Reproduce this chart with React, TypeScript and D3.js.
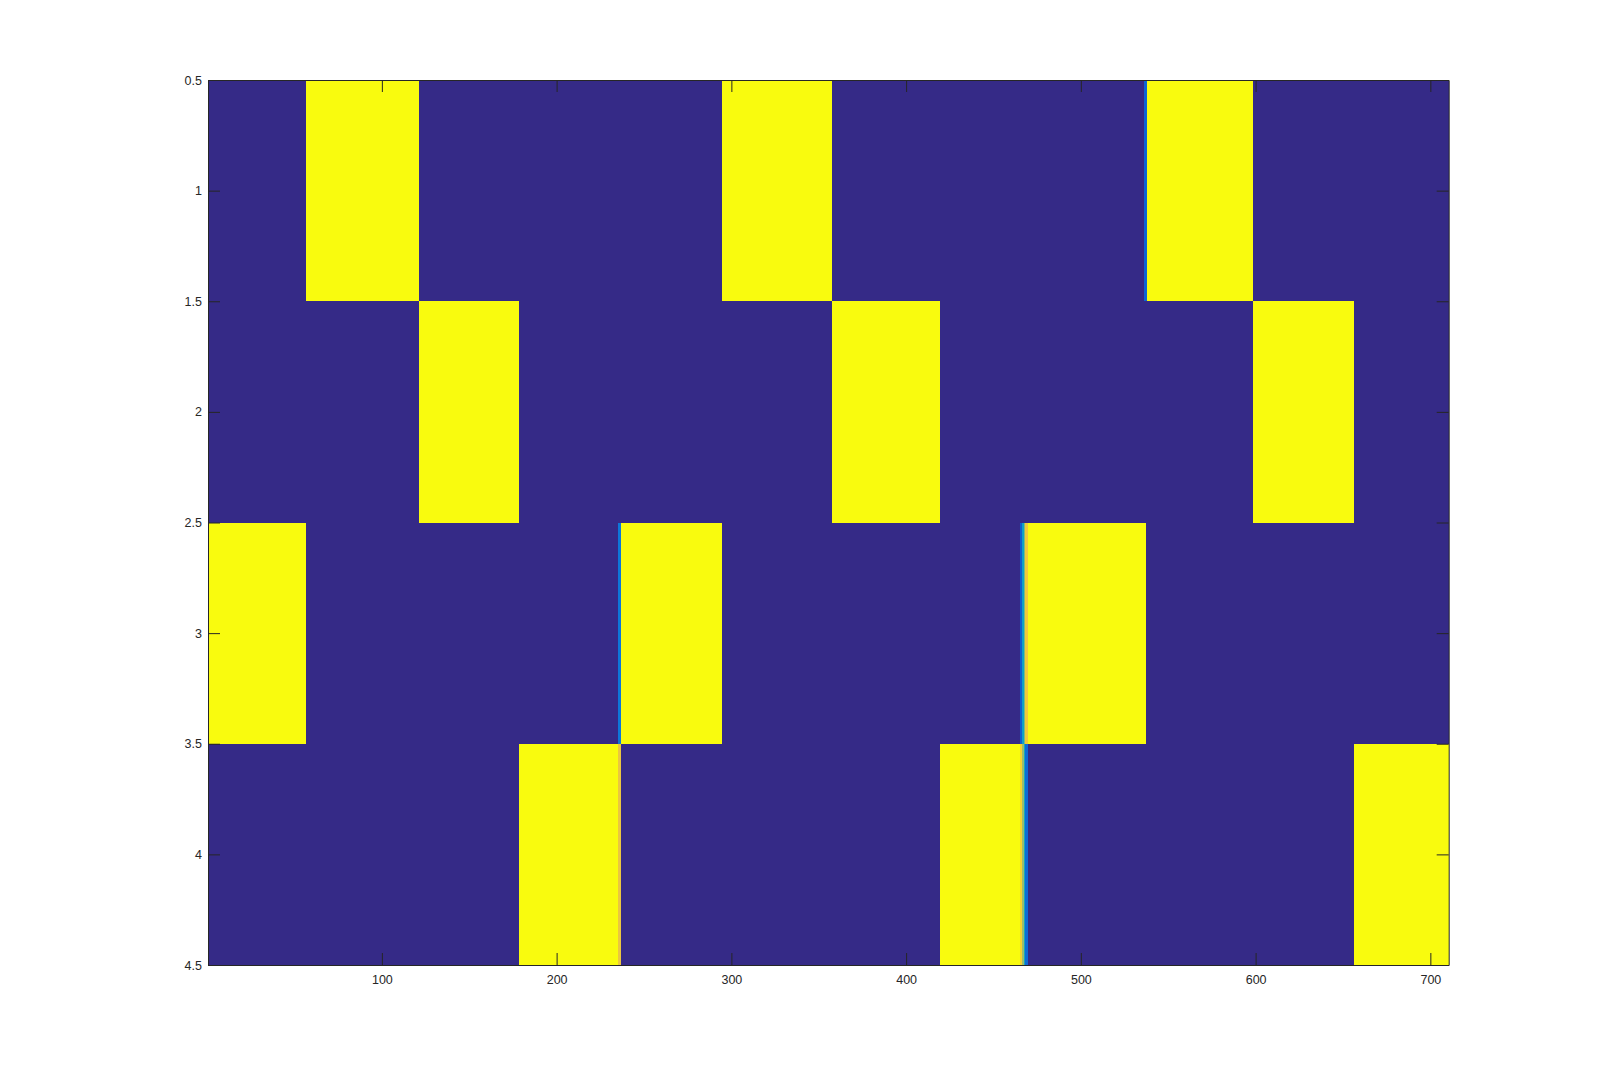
import React, { useEffect, useRef } from "react";
import * as d3 from "d3";

// image size: 4 rows x 710 columns, values 0..1 (imagesc, parula)
const nCols = 710;
const rows = [1, 2, 3, 4];

// columns where each row is "on" (value 1), inclusive ranges
const row1On = [[57, 121], [295, 357], [538, 598]];
const row2On = [[122, 178], [358, 419], [599, 656]];
const row3On = [[1, 56], [237, 294], [470, 537]];
const row4On = [[179, 235], [420, 465], [657, 710]];

// the few in-between cells at the switching points: [row, col, value]
const blendCells = [
  [3, 236, 0.2], [4, 236, 0.82],
  [3, 466, 0.12], [3, 467, 0.36], [3, 468, 0.6], [3, 469, 0.84],
  [4, 466, 0.88], [4, 467, 0.64], [4, 468, 0.4], [4, 469, 0.16],
  [1, 537, 0.14],
];

const xTicks = [100, 200, 300, 400, 500, 600, 700];
const yTicks = [0.5, 1, 1.5, 2, 2.5, 3, 3.5, 4, 4.5];

// parula-ish colormap stops
const parula = ["#352a87", "#0363e1", "#1485d4", "#06a7c6", "#38b99e", "#92bf73", "#d9ba56", "#fcce2e", "#f9fb0e"];

const App = () => {
  const svgRef = useRef(null);

  useEffect(() => {
    const margin = { left: 208, top: 80, right: 1448.7, bottom: 965 };
    const svg = d3.select(svgRef.current);
    svg.selectAll("*").remove();

    const x = d3.scaleLinear().domain([0.5, nCols + 0.5]).range([margin.left, margin.right]);
    const y = d3.scaleLinear().domain([0.5, 4.5]).range([margin.top, margin.bottom]);
    const color = d3.scaleSequential(d3.interpolateRgbBasis(parula)).domain([0, 1]);

    // build the matrix
    const onLists = [row1On, row2On, row3On, row4On];
    const matrix = rows.map((r, i) => {
      const vals = new Array(nCols).fill(0);
      onLists[i].forEach(([a, b]) => {
        for (let c = a; c <= b; c++) vals[c - 1] = 1;
      });
      return vals;
    });
    blendCells.forEach(([r, c, v]) => {
      matrix[r - 1][c - 1] = v;
    });

    // merge equal neighbours into runs
    const runs = [];
    matrix.forEach((vals, i) => {
      let start = 0;
      for (let c = 1; c <= nCols; c++) {
        if (c === nCols || vals[c] !== vals[start]) {
          runs.push({ row: rows[i], c0: start + 1, c1: c, v: vals[start] });
          start = c;
        }
      }
    });

    // solid runs first, snapped to whole pixels; the thin blend cells on top,
    // widened to the covering pixels so they stay visible
    const isBlend = (d) => d.v > 0 && d.v < 1;
    const ordered = runs.filter((d) => !isBlend(d)).concat(runs.filter(isBlend));
    const x0 = (d) => (isBlend(d) ? Math.floor(x(d.c0 - 0.5)) : Math.round(x(d.c0 - 0.5)));
    const x1 = (d) => (isBlend(d) ? Math.ceil(x(d.c1 + 0.5)) : Math.round(x(d.c1 + 0.5)));

    svg
      .append("g")
      .selectAll("rect")
      .data(ordered)
      .enter()
      .append("rect")
      .attr("x", x0)
      .attr("y", (d) => Math.round(y(d.row - 0.5)))
      .attr("width", (d) => Math.max(1, x1(d) - x0(d)))
      .attr("height", (d) => Math.round(y(d.row + 0.5)) - Math.round(y(d.row - 0.5)))
      .attr("fill", (d) => color(d.v));

    const tick = 12;
    const font = "'Liberation Sans', Arial, sans-serif";

    const styleAxis = (g, showLabels) => {
      g.selectAll("path, line").attr("stroke", "#262626");
      g.selectAll("text")
        .attr("fill", showLabels ? "#262626" : "none")
        .style("font-family", font)
        .style("font-size", "12.5px");
    };

    svg
      .append("g")
      .attr("transform", `translate(0,${margin.bottom})`)
      .call(d3.axisBottom(x).tickValues(xTicks).tickSizeInner(-tick).tickSizeOuter(0).tickPadding(10))
      .call((g) => styleAxis(g, true));

    svg
      .append("g")
      .attr("transform", `translate(0,${margin.top})`)
      .call(d3.axisTop(x).tickValues(xTicks).tickSizeInner(-tick).tickSizeOuter(0))
      .call((g) => styleAxis(g, false));

    svg
      .append("g")
      .attr("transform", `translate(${margin.left},0)`)
      .call(d3.axisLeft(y).tickValues(yTicks).tickFormat(d3.format("")).tickSizeInner(-tick).tickSizeOuter(0).tickPadding(6))
      .call((g) => styleAxis(g, true));

    svg
      .append("g")
      .attr("transform", `translate(${margin.right},0)`)
      .call(d3.axisRight(y).tickValues(yTicks).tickSizeInner(-tick).tickSizeOuter(0))
      .call((g) => styleAxis(g, false));
  }, []);

  return (
    <svg
      ref={svgRef}
      width={1600}
      height={1084}
      style={{ position: "absolute", left: 0, top: 0, background: "#ffffff" }}
    ></svg>
  );
};

export default App;
